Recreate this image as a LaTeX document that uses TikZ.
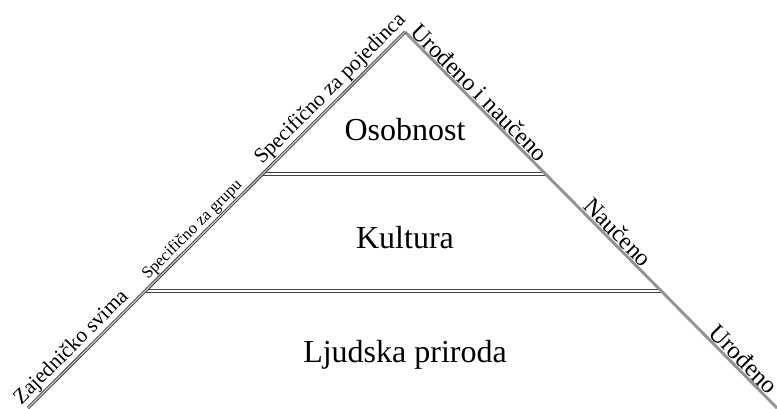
\documentclass[tikz,border=0pt]{standalone}
\usepackage{fontspec}
\setmainfont{Liberation Serif}
\usetikzlibrary{calc}
\begin{document}
\begin{tikzpicture}[x=0.75pt,y=-0.75pt,
    sidetext/.style={sloped,above,inner sep=1.5pt,font=\fontsize{16}{18}\selectfont},
    leveltext/.style={anchor=base,font=\fontsize{24}{27}\selectfont},
    leftside/.style={draw=black!75,double=gray!45,double distance=0.9pt,line width=0.7pt},
    rightside/.style={draw=gray!85,line width=2.2pt},
    levelline/.style={draw=black!75,double=white,double distance=1pt,line width=0.8pt}]
  \useasboundingbox (0,0) rectangle (777,408);
  % corners
  \coordinate (apex) at (405,32);
  \coordinate (bl) at (28,408);
  \coordinate (br) at (777,408);
  % level borders
  \coordinate (l1) at ($(apex)!0.378!(bl)$);
  \coordinate (r1) at ($(apex)!0.378!(br)$);
  \coordinate (l2) at ($(apex)!0.689!(bl)$);
  \coordinate (r2) at ($(apex)!0.689!(br)$);
  \draw[levelline] (l1) -- (r1);
  \draw[levelline] (l2) -- (r2);
  \draw[rightside] (apex) -- (br);
  \draw[leftside] (bl) -- (apex);
  % levels
  \node[leveltext] (osobnost) at (405,140) {Osobnost};
  \node[leveltext] (kultura) at (405,248) {Kultura};
  \node[leveltext] (priroda) at (405,362) {Ljudska priroda};
  % side labels
  \path (apex) -- (bl)
    node[sidetext,pos=0.175] (pojedinac) {Specifično za pojedinca}
    node[sidetext,pos=0.545,font=\fontsize{12.5}{14}\selectfont] (grupa) {Specifično za grupu}
    node[sidetext,pos=0.862] (svi) {Zajedničko svima};
  \path (apex) -- (br)
    node[sidetext,pos=0.18,font=\fontsize{18}{20}\selectfont] (oboje) {Urođeno i naučeno}
    node[sidetext,pos=0.552,font=\fontsize{18}{20}\selectfont] (nauceno) {Naučeno}
    node[sidetext,pos=0.89,font=\fontsize{18.5}{20}\selectfont] (urodeno) {Urođeno};
\end{tikzpicture}
\end{document}
